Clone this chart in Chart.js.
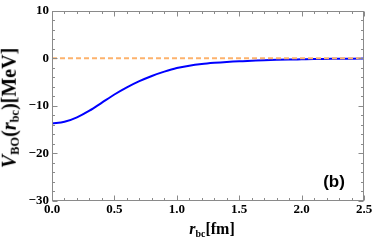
<!DOCTYPE html>
<html>
<head>
<meta charset="utf-8">
<script src="https://cdn.jsdelivr.net/npm/chart.js@4/dist/chart.umd.min.js"></script>
<style>
  body { margin: 0; background: #fff; }
  #wrap { position: relative; width: 374px; height: 244px; }
  .lbl { position: absolute; font-family: "Liberation Serif", "DejaVu Serif", serif; font-weight: bold; color: #000; white-space: nowrap; line-height: 1; }
  .lbl i { font-style: italic; }
  .lbl sub { font-size: 62%; vertical-align: -0.25em; }
  #ylab { left: 10px; top: 108px; font-size: 20px; transform: translate(-50%, -50%) rotate(-90deg); }
  #xlab { left: 212px; top: 230px; font-size: 16px; transform: translate(-50%, -50%); }
  #tag { left: 334px; top: 181px; font-family: "Liberation Sans", Arial, sans-serif; font-size: 17px; transform: translate(-50%, -50%); }
</style>
</head>
<body>
<div id="wrap">
  <canvas id="myChart" width="374" height="244"></canvas>
  <div class="lbl" id="ylab"><i>V</i><sub>BO</sub>(<i>r</i><sub>bc</sub>)[MeV]</div>
  <div class="lbl" id="xlab"><i>r</i><sub>bc</sub>[fm]</div>
  <div class="lbl" id="tag">(b)</div>
</div>
<script>
// r_bc in fm, V_BO in MeV
var rbc = [0.0, 0.1, 0.2, 0.3, 0.4, 0.5, 0.6, 0.7, 0.8, 0.9, 1.0, 1.1, 1.2, 1.3, 1.4, 1.5, 1.6, 1.7, 1.8, 1.9, 2.0, 2.1, 2.2, 2.3, 2.4, 2.5];
var vbo = [-13.7, -13.35, -12.4, -11.0, -9.3, -7.6, -6.1, -4.8, -3.7, -2.8, -2.05, -1.55, -1.2, -0.95, -0.75, -0.6, -0.5, -0.4, -0.32, -0.25, -0.2, -0.15, -0.12, -0.09, -0.07, -0.05];

var zeroX = [0, 2.5];
var zeroY = [0, 0];

var xTicks = [0.0, 0.5, 1.0, 1.5, 2.0, 2.5];
var yTicks = [-30, -20, -10, 0, 10];

var frameColor = '#8a8a8a';

// Mathematica style frame: box + inward ticks on all four sides
var frameTicks = {
    id: 'frameTicks',
    afterDatasetsDraw: function (chart) {
        var ctx = chart.ctx;
        var area = chart.chartArea;
        var xs = chart.scales.x;
        var ys = chart.scales.y;
        var L = Math.round(area.left) + 0.5;
        var R = Math.round(area.right) - 0.5;
        var T = Math.round(area.top) + 0.5;
        var B = Math.round(area.bottom) - 0.5;

        ctx.save();
        ctx.strokeStyle = frameColor;
        ctx.lineWidth = 1;
        ctx.strokeRect(L, T, R - L, B - T);

        ctx.beginPath();
        // x ticks, minor every 0.1
        for (var i = 0; i <= 25; i++) {
            var v = i / 10;
            var px = Math.round(xs.getPixelForValue(v)) + 0.5;
            var len = (i % 5 === 0) ? 5 : 2.5;
            ctx.moveTo(px, B); ctx.lineTo(px, B - len);
            ctx.moveTo(px, T); ctx.lineTo(px, T + len);
        }
        // y ticks, minor every 2
        for (var j = -30; j <= 10; j += 2) {
            var py = Math.round(ys.getPixelForValue(j)) + 0.5;
            var ylen = (j % 10 === 0) ? 5 : 2.5;
            ctx.moveTo(L, py); ctx.lineTo(L + ylen, py);
            ctx.moveTo(R, py); ctx.lineTo(R - ylen, py);
        }
        ctx.stroke();
        ctx.restore();
    }
};

var tickFont = { family: '"Liberation Serif", "DejaVu Serif", serif', size: 13, weight: 'bold' };

var ctx = document.getElementById('myChart').getContext('2d');
var myChart = new Chart(ctx, {
    type: 'line',
    data: {
        datasets: [{
            label: 'zero',
            data: zeroX.map(function (x, i) { return { x: x, y: zeroY[i] }; }),
            borderColor: '#fdb26c',
            borderWidth: 2,
            borderDash: [5, 3],
            pointRadius: 0
        }, {
            label: 'V_BO',
            data: rbc.map(function (x, i) { return { x: x, y: vbo[i] }; }),
            borderColor: '#0000ff',
            borderWidth: 2,
            pointRadius: 0,
            cubicInterpolationMode: 'monotone'
        }]
    },
    options: {
        responsive: false,
        animation: false,
        layout: { padding: { left: 0, right: 10, top: 7, bottom: 0 } },
        plugins: {
            legend: { display: false },
            tooltip: { enabled: false }
        },
        scales: {
            x: {
                type: 'linear',
                min: 0,
                max: 2.5,
                grid: { display: false, drawTicks: false },
                border: { display: false },
                afterBuildTicks: function (scale) {
                    scale.ticks = xTicks.map(function (v) { return { value: v }; });
                },
                afterFit: function (scale) { scale.height = 43; },
                ticks: {
                    font: tickFont,
                    color: '#000',
                    padding: 1,
                    maxRotation: 0,
                    autoSkip: false,
                    callback: function (value) { return value.toFixed(1); }
                }
            },
            y: {
                type: 'linear',
                min: -30,
                max: 10,
                grid: { display: false, drawTicks: false },
                border: { display: false },
                afterBuildTicks: function (scale) {
                    scale.ticks = yTicks.map(function (v) { return { value: v }; });
                },
                afterFit: function (scale) { scale.width = 52; },
                ticks: {
                    font: tickFont,
                    color: '#000',
                    padding: 3,
                    autoSkip: false,
                    callback: function (value) {
                        return value < 0 ? '\u2212' + Math.abs(value) : String(value);
                    }
                }
            }
        }
    },
    plugins: [frameTicks]
});
</script>
</body>
</html>
